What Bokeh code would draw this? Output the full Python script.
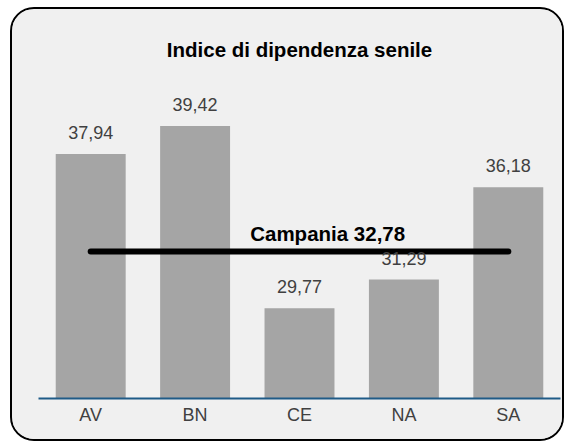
from bokeh.plotting import figure
from bokeh.models import ColumnDataSource, LabelSet, Range1d, FixedTicker
from bokeh.core.properties import value
from bokeh.embed import file_html
from bokeh.resources import INLINE

# ---- data ----
provinces = ["AV", "BN", "CE", "NA", "SA"]
values = [37.94, 39.42, 29.77, 31.29, 36.18]
value_labels = ["37,94", "39,42", "29,77", "31,29", "36,18"]
region_name = "Campania"
region_value = 32.78
region_label = "Campania 32,78"
title_text = "Indice di dipendenza senile"

# ---- layout constants ----
Y0 = 25.0
OUTER_W, OUTER_H = 554, 434
FRAME_TOP = 56
FRAME_BOTTOM_PAD = 45
FRAME_LEFT = 26
FRAME_RIGHT_PAD = 6
PX_PER_UNIT = 18.9

xs = [i + 0.5 for i in range(len(provinces))]
src = ColumnDataSource(dict(x=xs, top=values, lab=value_labels))

frame_h = OUTER_H - FRAME_TOP - FRAME_BOTTOM_PAD
p = figure(width=OUTER_W, height=OUTER_H, output_backend="svg", toolbar_location=None,
           x_range=Range1d(0, len(provinces)),
           y_range=Range1d(Y0, Y0 + frame_h / PX_PER_UNIT),
           min_border_left=FRAME_LEFT, min_border_right=FRAME_RIGHT_PAD,
           min_border_top=FRAME_TOP, min_border_bottom=FRAME_BOTTOM_PAD)

p.styles = {"border": "2px solid #000000", "border-radius": "24px",
            "background-color": "#f0f0f0", "overflow": "hidden",
            "margin-left": "10px", "margin-top": "7px"}
p.background_fill_color = "#f0f0f0"
p.border_fill_color = "#f0f0f0"
p.outline_line_color = None

p.title.text = title_text
p.title.align = "center"
p.title.text_font = "Liberation Sans"
p.title.text_font_size = "20.5px"
p.title.text_font_style = "bold"
p.title.text_color = "#000000"

p.vbar(x="x", top="top", bottom=Y0, width=0.67, source=src,
       fill_color="#a5a5a5", line_color=None)

p.add_layout(LabelSet(x="x", y="top", text="lab", source=src, y_offset=15,
                      text_align="center", text_baseline="alphabetic",
                      text_font=value("Liberation Sans"), text_font_size=value("18px"),
                      text_color="#404040"))

p.segment(x0=[xs[0]], y0=[region_value], x1=[xs[-1]], y1=[region_value],
          line_color="#000000", line_width=6, line_cap="round")

reg_src = ColumnDataSource(dict(x=[2.77], y=[region_value], t=[region_label]))
p.add_layout(LabelSet(x="x", y="y", text="t", source=reg_src, y_offset=10,
                      text_align="center", text_baseline="alphabetic",
                      text_font=value("Liberation Sans"), text_font_size=value("20.5px"),
                      text_font_style="bold", text_color="#000000"))

p.yaxis.visible = False
p.xgrid.visible = False
p.ygrid.visible = False
xa = p.xaxis[0]
xa.ticker = FixedTicker(ticks=xs)
xa.major_label_overrides = {x: n for x, n in zip(xs, provinces)}
xa.axis_line_color = "#1f5b87"
xa.axis_line_width = 2
xa.major_tick_line_color = None
xa.minor_tick_line_color = None
xa.major_label_standoff = 0
xa.major_label_text_font = "Liberation Sans"
xa.major_label_text_font_size = "18px"
xa.major_label_text_color = "#404040"

open("out.html", "w").write(file_html(p, INLINE))
